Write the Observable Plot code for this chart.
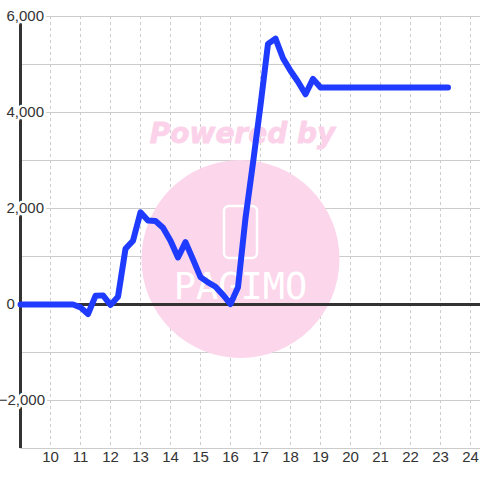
<!DOCTYPE html>
<html><head><meta charset="utf-8">
<script src="https://cdn.jsdelivr.net/npm/d3@7"></script>
<script src="https://cdn.jsdelivr.net/npm/@observablehq/plot@0.6"></script>
<style>
body{margin:0;background:#fff;}
#chart{width:480px;height:480px;}
</style></head><body><div id="chart"></div>
<script>
const hours = [9, 9.25, 9.5, 9.75, 10, 10.25, 10.5, 10.75, 11, 11.25, 11.5, 11.75,
  12, 12.25, 12.5, 12.75, 13, 13.25, 13.5, 13.75, 14, 14.25, 14.5, 14.75,
  15, 15.25, 15.5, 15.75, 16, 16.25, 16.5, 16.75, 17, 17.25, 17.5, 17.75,
  18, 18.25, 18.5, 18.75, 19, 19.25, 19.5, 19.75, 20, 20.25, 20.5, 20.75,
  21, 21.25, 21.5, 21.75, 22, 22.25, 22.5, 22.75, 23, 23.25];
const values = [0, 0, 0, 0, 0, 0, 0, 0, -60, -200, 180, 190,
  -10, 160, 1160, 1330, 1920, 1750, 1740, 1600, 1330, 980, 1300, 940,
  570, 460, 370, 200, 10, 360, 1800, 2950, 4150, 5430, 5540, 5130,
  4870, 4640, 4380, 4700, 4520, 4520, 4520, 4520, 4520, 4520, 4520, 4520,
  4520, 4520, 4520, 4520, 4520, 4520, 4520, 4520, 4520, 4520];
const xTicks = [10, 11, 12, 13, 14, 15, 16, 17, 18, 19, 20, 21, 22, 23, 24];
const yTicks = [-2000, 0, 2000, 4000, 6000];
const yGrid = [-3000, -2000, -1000, 0, 1000, 2000, 3000, 4000, 5000, 6000];
const xDomain = [9, 24.3333];
const yDomain = [-3000, 6000];
const watermarkText = "Powered by";
const logoText = "PAGIMO";

const data = hours.map((h, i) => ({hour: h, value: values[i]}));
const fmt = d3.format(",");
const pink = "#fcd6eb";

const logoMark = (index, scales, vals, dim) => {
  const cx = (dim.marginLeft + dim.width - dim.marginRight) / 2 - 10;
  const cy = (dim.marginTop + dim.height - dim.marginBottom) / 2;
  const g = d3.create("svg:g");
  g.append("rect")
    .attr("x", cx - 16).attr("y", cy - 26)
    .attr("width", 33).attr("height", 52)
    .attr("rx", 5)
    .attr("fill", "none").attr("stroke", "white").attr("stroke-width", 2.5);
  return g.node();
};

const chart = Plot.plot({
  width: 480, height: 480,
  marginLeft: 20, marginRight: 0, marginTop: 16, marginBottom: 32,
  x: {domain: xDomain, axis: null},
  y: {domain: yDomain, axis: null},
  style: {fontFamily: "'Liberation Sans', Arial, sans-serif", background: "#fff"},
  marks: [
    Plot.ruleY(yGrid, {stroke: "#cccccc", strokeWidth: 1}),
    Plot.ruleX(xTicks, {stroke: "#cccccc", strokeDasharray: "3,3"}),
    Plot.dot([0], {frameAnchor: "middle", dx: -10, dy: 26.5, r: 99, fill: pink, stroke: null}),
    Plot.text([watermarkText], {frameAnchor: "middle", dx: -8, dy: -98, text: d => d,
      fontSize: 28, fontWeight: "bold", fontStyle: "italic",
      fontFamily: "'DejaVu Sans', Verdana, sans-serif", fill: "#fbd2e9",
      stroke: "#fbd2e9", strokeWidth: 0.8}),
    logoMark,
    Plot.text([logoText], {frameAnchor: "middle", dx: -10, dy: 55, text: d => d,
      fontSize: 37, fontFamily: "'DejaVu Sans Mono', monospace", fill: "white"}),
    Plot.ruleY([0], {stroke: "#333333", strokeWidth: 3}),
    Plot.ruleX([xDomain[0]], {stroke: "#333333", strokeWidth: 3}),
    Plot.line(data, {x: "hour", y: "value", stroke: "#1f3bff", strokeWidth: 6,
      strokeLinejoin: "round", strokeLinecap: "round"}),
    Plot.text(yTicks.filter(d => d >= 0), {y: d => d, frameAnchor: "left", textAnchor: "start",
      dx: -14, text: d => fmt(d), fontSize: 15, fill: "#333333",
      stroke: "white", strokeWidth: 5, paintOrder: "stroke"}),
    Plot.text(yTicks.filter(d => d < 0), {y: d => d, frameAnchor: "left", textAnchor: "end",
      dx: 24.5, text: d => fmt(d), fontSize: 15, fill: "#333333",
      stroke: "white", strokeWidth: 5, paintOrder: "stroke"}),
    Plot.text(xTicks, {x: d => d, frameAnchor: "bottom", dy: 13, text: d => String(d),
      fontSize: 15, fill: "#333333"})
  ]
});
document.getElementById("chart").appendChild(chart);
</script>
</body></html>
